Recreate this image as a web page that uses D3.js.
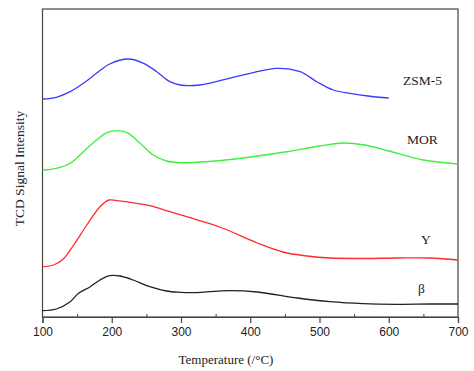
<!DOCTYPE html>
<html>
<head>
<meta charset="utf-8">
<script src="https://cdn.jsdelivr.net/npm/d3@7"></script>
<style>
  body { margin: 0; background: #fff; }
  .lbl { font-family: "Liberation Serif", "Times New Roman", serif; fill: #222; }
  .tick text { font-family: "Liberation Sans", Arial, sans-serif; font-size: 12px; fill: #222; }
</style>
</head>
<body>
<div class="chart"></div>
<script>
// Temperature ticks
var xTicks = [100, 200, 300, 400, 500, 600, 700];
var xMinor = [150, 250, 350, 450, 550, 650];

// ZSM-5 (blue)
var zsmT = [100, 120, 140, 159, 178, 197, 224, 246, 265, 284, 299, 327, 375, 400, 438, 472, 496, 520, 544, 570, 600];
var zsmV = [218, 219.7, 225.3, 233.7, 243.7, 253, 258, 253.7, 245.3, 235.3, 232, 232, 239.7, 243.7, 248.7, 245.3, 235.3, 227, 223.7, 221, 219];

// MOR (green)
var morT = [100, 120, 140, 159, 178, 193, 207, 222, 241, 260, 279, 299, 350, 390, 450, 500, 535, 565, 600, 650, 700];
var morV = [147, 148.7, 153.7, 165.3, 177, 184.3, 186.3, 184.3, 173.7, 162, 156, 154.3, 156, 159, 165, 171, 174, 172, 166, 157, 153];

// Y (red)
var yT = [100, 116, 130, 145, 164, 183, 196, 207, 236, 255, 284, 313, 356, 410, 447, 482, 515, 563, 612, 660, 700];
var yV = [50.3, 52, 58, 72, 92, 110.3, 117, 116.3, 113.7, 111.3, 105.3, 99.3, 90, 74, 65, 61, 59, 58.5, 59, 59, 57];

// beta (black)
var betaT = [100, 120, 140, 152, 169, 183, 197, 212, 231, 255, 279, 299, 313, 371, 410, 468, 515, 563, 612, 660, 700];
var betaV = [6.3, 8, 15.3, 23.7, 30.3, 37, 41.3, 41, 37, 30.3, 26, 24.7, 24.3, 26.3, 25, 19, 15.3, 13.3, 12.7, 13, 13];

var series = [
  {name: "ZSM-5", t: zsmT, v: zsmV, color: "#3a3aff", lx: 403, ly: 85},
  {name: "MOR", t: morT, v: morV, color: "#3cf03c", lx: 407, ly: 144},
  {name: "Y", t: yT, v: yV, color: "#ff2a2a", lx: 421, ly: 244},
  {name: "\u03b2", t: betaT, v: betaV, color: "#222", lx: 418, ly: 293}
];

var svgWidth = 474, svgHeight = 371;
var margin = {top: 9, right: 16, bottom: 54, left: 42.5};
var width = svgWidth - margin.left - margin.right;
var height = svgHeight - margin.top - margin.bottom;

var svg = d3.select(".chart").append("svg")
    .attr("width", svgWidth)
    .attr("height", svgHeight);

var chart = svg.append("g")
    .attr("transform", "translate(" + margin.left + "," + margin.top + ")");

var x = d3.scaleLinear().domain([100, 700]).range([0, width]);
var y = d3.scaleLinear().domain([0, 308]).range([height, 0]);

// frame
chart.append("rect")
    .attr("width", width).attr("height", height)
    .attr("fill", "none").attr("stroke", "#444").attr("stroke-width", 1.2);

// minor ticks (inward)
chart.append("g")
    .attr("transform", "translate(0," + height + ")")
    .call(d3.axisBottom(x).tickValues(xMinor).tickSize(-3).tickFormat(""))
    .call(function(g) { g.select(".domain").remove(); })
    .selectAll("line").attr("stroke", "#444");

// major ticks + labels
var bottom = chart.append("g")
    .attr("transform", "translate(0," + height + ")")
    .call(d3.axisBottom(x).tickValues(xTicks).tickSize(6).tickPadding(4).tickFormat(d3.format("d")));
bottom.select(".domain").attr("stroke", "#444").attr("stroke-width", 1.2);
bottom.selectAll("line").attr("stroke", "#444").attr("stroke-width", 1.2);

var line = d3.line()
    .x(function(d) { return x(d[0]); })
    .y(function(d) { return y(d[1]); })
    .curve(d3.curveCatmullRom.alpha(0.5));

series.forEach(function(s) {
  var pts = s.t.map(function(t, i) { return [t, s.v[i]]; });
  chart.append("path")
      .attr("d", line(pts))
      .attr("fill", "none")
      .attr("stroke", s.color)
      .attr("stroke-width", 1.3);
  svg.append("text")
      .attr("class", "lbl")
      .attr("x", s.lx).attr("y", s.ly)
      .attr("font-size", "13.5px")
      .text(s.name);
});

// axis titles
svg.append("text")
    .attr("class", "lbl")
    .attr("x", 226).attr("y", 364)
    .attr("text-anchor", "middle")
    .attr("font-size", "13px")
    .text("Temperature (/\u00b0C)");

svg.append("text")
    .attr("class", "lbl")
    .attr("transform", "translate(24,168.5) rotate(-90)")
    .attr("text-anchor", "middle")
    .attr("font-size", "13.5px")
    .text("TCD Signal Intensity");
</script>
</body>
</html>
